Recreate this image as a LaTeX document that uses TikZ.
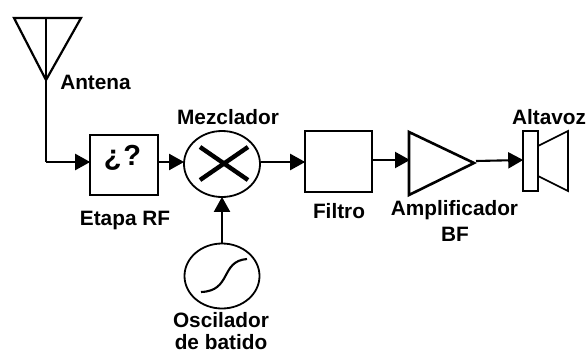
\documentclass[tikz,border=0pt]{standalone}
\usepackage{fontspec}
\setmainfont{Liberation Sans}
\usetikzlibrary{arrows.meta,shapes.geometric}
\tikzset{
  wire/.style={line width=2.1pt,-{Triangle[length=15pt,width=16pt]},shorten >=-1pt},
  blockbox/.style={draw,rectangle,line width=1.6pt,inner sep=0pt},
  round/.style={draw,ellipse,line width=1.8pt,inner sep=0pt,minimum width=76pt,minimum height=66pt},
  lab/.style={font=\fontsize{20.8}{20.8}\selectfont\bfseries,inner sep=0pt,anchor=center},
  symb/.style={line width=1.6pt,line join=miter}
}
\begin{document}
\begin{tikzpicture}[x=1pt,y=-1pt]
\useasboundingbox (0,0) rectangle (588,351);
% antenna
\coordinate (al) at (14,18);
\coordinate (ar) at (81,18);
\coordinate (am) at (46,18);
\coordinate (ap) at (46,80);
\coordinate (corner) at (46,162);
\draw[symb,line width=2.2pt] (al) -- (ar) -- (ap) -- cycle;
\draw[line width=1.8pt] (am) -- (ap);
% blocks
\node[blockbox,minimum width=68pt,minimum height=60pt] (rf) at (124,165) {};
\node[font=\fontsize{29}{29}\selectfont\bfseries,inner sep=0pt] (q) at (122.5,158) {¿\kern2pt?};
\node[round] (mix) at (222,164) {};
\coordinate (x1) at (200,180);
\coordinate (x2) at (248,147);
\coordinate (x3) at (200,147);
\coordinate (x4) at (248,180);
\draw[line width=4.4pt] (x1) -- (x2) (x3) -- (x4);
\node[round,minimum width=75pt,minimum height=65pt] (osc) at (222,276) {};
\coordinate (s1) at (201,292);
\coordinate (s2) at (247,259);
\draw[line width=2.1pt] (s1) .. controls (232,291) and (220,261) .. (s2);
\node[blockbox,minimum width=67pt,minimum height=61pt] (fil) at (338.5,161.5) {};
% amplifier
\coordinate (t1) at (409,132);
\coordinate (t2) at (474,163);
\coordinate (t3) at (409,195);
\coordinate (tin) at (409,160);
\coordinate (tout) at (476,161);
\draw[line width=2.6pt,line join=miter] (t1) -- (t2) -- (t3) -- cycle;
% speaker
\node[blockbox,minimum width=15pt,minimum height=60pt] (spk) at (530.5,161) {};
\coordinate (h1) at (538,146);
\coordinate (h2) at (568,131);
\coordinate (h3) at (568,191);
\coordinate (h4) at (538,176);
\draw[line width=1.6pt] (h1) -- (h2) -- (h3) -- (h4);
% connectors
\draw[line width=2.1pt] (ap) -- (corner);
\draw[wire] (corner) -- (rf.west |- corner);
\draw[wire] (rf.east |- corner) -- (mix.west |- corner);
\draw[wire] (mix.east |- corner) -- (fil.west |- corner);
\draw[wire] (fil.east |- tin) -- (tin);
\draw[wire] (tout) -- (spk.west |- 0,160);
\draw[wire] (osc.north) -- (mix.south);
% labels
\node[lab] (l1) at (95.5,82) {Antena};
\node[lab] (l2) at (228,117) {Mezclador};
\node[lab] (l3) at (125,220) {Etapa RF};
\node[lab] (l4) at (339,211) {Filtro};
\node[lab] (l5) at (454.5,210) {Amplificador};
\node[lab] (l6) at (455,234) {BF};
\node[lab] (l7) at (549,117) {Altavoz};
\node[lab] (l8) at (221,320) {Oscilador};
\node[lab] (l9) at (221,342) {de batido};
\end{tikzpicture}
\end{document}
